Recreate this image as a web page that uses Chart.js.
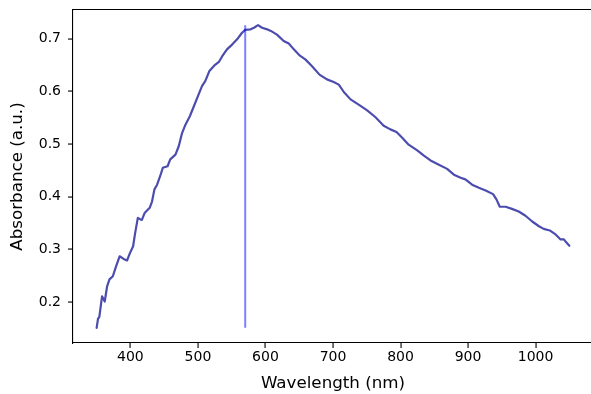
<!DOCTYPE html>
<html>
<head>
<meta charset="utf-8">
<script src="https://cdn.jsdelivr.net/npm/chart.js@4/dist/chart.umd.min.js"></script>
<style>
  html, body { margin: 0; padding: 0; background: #fff; overflow: hidden; }
  #wrap { width: 591px; height: 394px; overflow: hidden; position: relative; }
  #chart { display: block; }
</style>
</head>
<body>
<div id="wrap"><canvas id="chart" width="600" height="394"></canvas></div>
<script>
// Absorption spectrum: wavelength (nm) and absorbance (a.u.)
const wavelength = [
  350, 352, 354, 358, 362, 365.5, 369, 374, 378, 384, 390, 395, 399, 404, 407, 411, 415, 417,
  421, 428.6, 432, 435.6, 439.5, 444, 448, 455, 459, 466.7, 471.6, 476.5, 481.5, 488, 494, 500,
  506, 511, 517, 524, 531, 536, 543, 550.6, 558, 565, 570, 578, 583, 589, 595, 602.5, 608, 617,
  627, 634.5, 642, 651, 659, 669, 680, 691, 701, 708.6, 716, 726, 738, 750.6, 763, 775, 785, 794,
  802.5, 812, 824.7, 834.6, 844.4, 856.8, 869, 879, 889, 896, 906, 916, 926, 937, 942, 947, 955.6,
  965, 975, 985, 995, 1005, 1012, 1021, 1030, 1037, 1042, 1045, 1050
];
const absorbance = [
  0.151, 0.168, 0.172, 0.211, 0.201, 0.230, 0.243, 0.249, 0.265, 0.287, 0.282, 0.279, 0.292, 0.306, 0.331, 0.360, 0.357, 0.356,
  0.369, 0.379, 0.391, 0.414, 0.423, 0.439, 0.455, 0.458, 0.471, 0.480, 0.496, 0.521, 0.537, 0.553, 0.572, 0.591,
  0.610, 0.620, 0.639, 0.649, 0.656, 0.667, 0.680, 0.689, 0.699, 0.711, 0.717, 0.718, 0.721, 0.726, 0.721, 0.718, 0.715, 0.708,
  0.696, 0.691, 0.680, 0.668, 0.661, 0.648, 0.632, 0.623, 0.618, 0.613, 0.599, 0.585, 0.575, 0.564, 0.551, 0.535, 0.528, 0.523,
  0.512, 0.499, 0.488, 0.478, 0.469, 0.461, 0.453, 0.442, 0.436, 0.433, 0.423, 0.417, 0.412, 0.405, 0.395, 0.381, 0.381,
  0.377, 0.372, 0.364, 0.353, 0.344, 0.339, 0.336, 0.328, 0.319, 0.319, 0.314, 0.307
];
// Vertical marker wavelength (nm)
const markerWavelength = 570;

const xTicks = [400, 500, 600, 700, 800, 900, 1000];
const yTicks = [0.2, 0.3, 0.4, 0.5, 0.6, 0.7];

const xLabel = 'Wavelength (nm)';
const yLabel = 'Absorbance (a.u.)';

// Axis limits with a 5% margin around the data
function paddedRange(arr) {
  const lo = Math.min(...arr), hi = Math.max(...arr);
  const m = (hi - lo) * 0.05;
  return [lo - m, hi + m];
}
const [xMin, xMax] = paddedRange(wavelength);
const [yMin, yMax] = paddedRange(absorbance);
const aMin = Math.min(...absorbance), aMax = Math.max(...absorbance);

const spectrum = wavelength.map((w, i) => ({ x: w, y: absorbance[i] }));
const marker = [{ x: markerWavelength, y: aMin }, { x: markerWavelength, y: aMax }];

const FONT = 'DejaVu Sans';
const INK = '#000';
const TICK_LEN = 5;
const spine = { display: true, color: INK, width: 1.1 };

// Outward tick marks, positioned through the chart's scales
const tickMarks = {
  id: 'tickMarks',
  afterDraw(chart) {
    const { ctx, scales } = chart;
    const xs = scales.x, ys = scales.y;
    const axisY = Math.round(ys.getPixelForValue(yMin));
    const axisX = Math.round(xs.getPixelForValue(xMin));
    ctx.save();
    ctx.fillStyle = INK;
    xTicks.forEach(v => {
      const px = Math.round(xs.getPixelForValue(v));
      ctx.fillRect(px - 0.5, axisY, 1.1, TICK_LEN);
    });
    yTicks.forEach(v => {
      const py = Math.round(ys.getPixelForValue(v));
      ctx.fillRect(axisX - TICK_LEN, py - 0.5, TICK_LEN, 1.1);
    });
    ctx.restore();
  }
};

new Chart(document.getElementById('chart'), {
  type: 'line',
  data: {
    datasets: [
      {
        data: marker,
        borderColor: 'rgba(0,0,255,0.5)',
        borderWidth: 2,
        pointRadius: 0,
        borderCapStyle: 'butt',
        tension: 0
      },
      {
        data: spectrum,
        borderColor: 'rgba(0,0,139,0.7)',
        borderWidth: 2.2,
        pointRadius: 0,
        borderJoinStyle: 'round',
        borderCapStyle: 'round',
        tension: 0
      }
    ]
  },
  plugins: [tickMarks],
  options: {
    responsive: false,
    animation: false,
    layout: { padding: { left: 0, right: 7, top: 10, bottom: 0 } },
    plugins: { legend: { display: false }, tooltip: { enabled: false }, title: { display: false } },
    scales: {
      x: {
        type: 'linear',
        position: 'bottom',
        min: xMin,
        max: xMax,
        afterBuildTicks: s => { s.ticks = xTicks.map(v => ({ value: v })); },
        afterFit: s => { s.height = 51; s.paddingLeft = 0; s.paddingRight = 0; },
        grid: { display: false, drawTicks: false },
        border: spine,
        ticks: { color: INK, padding: 6, maxRotation: 0, font: { family: FONT, size: 14 },
                 callback: v => String(v) },
        title: { display: true, text: xLabel, color: INK, font: { family: FONT, size: 16.7 }, padding: { top: 0, bottom: 0 } }
      },
      // top spine only
      xTop: {
        type: 'linear',
        position: 'top',
        min: xMin,
        max: xMax,
        afterBuildTicks: s => { s.ticks = []; },
        afterFit: s => { s.height = 0; s.paddingLeft = 0; s.paddingRight = 0; },
        grid: { display: false, drawTicks: false },
        border: spine,
        ticks: { display: false }
      },
      y: {
        type: 'linear',
        min: yMin,
        max: yMax,
        afterBuildTicks: s => { s.ticks = yTicks.map(v => ({ value: v })); },
        afterFit: s => { s.width = 73; s.paddingTop = 0; s.paddingBottom = 0; },
        grid: { display: false, drawTicks: false },
        border: spine,
        ticks: { color: INK, padding: 12, font: { family: FONT, size: 14 },
                 callback: v => v.toFixed(1) },
        title: { display: true, text: yLabel, color: INK, font: { family: FONT, size: 16.7 }, padding: { top: 8, bottom: 0 } }
      }
    }
  }
});
</script>
</body>
</html>
